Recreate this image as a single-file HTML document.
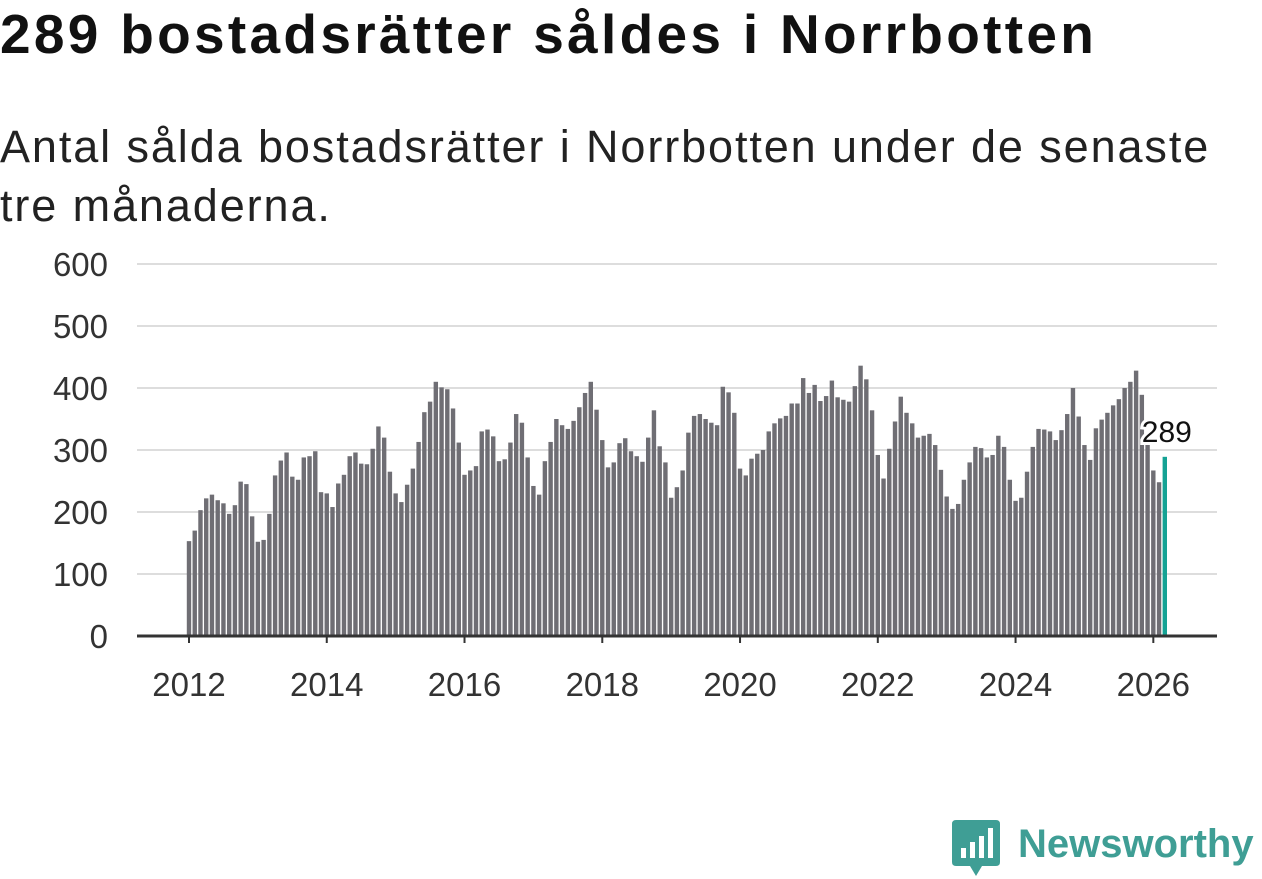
<!DOCTYPE html>
<html><head><meta charset="utf-8"><style>
body{margin:0;background:#fff;font-family:"Liberation Sans",sans-serif;width:1262px;height:879px;overflow:hidden;position:relative}
h1{position:absolute;left:0;top:2px;margin:0;font-size:55px;font-weight:bold;color:#111;letter-spacing:3.3px;white-space:nowrap}
.sub{position:absolute;left:0;top:117px;margin:0;font-size:45px;line-height:59px;color:#222;width:1262px;letter-spacing:1.9px;white-space:nowrap}
svg{position:absolute;left:0;top:0}
</style></head><body>
<h1>289 bostadsrätter såldes i Norrbotten</h1>
<p class="sub">Antal sålda bostadsrätter i Norrbotten under de senaste<br>tre månaderna.</p>
<svg id="c" width="1262" height="879"></svg>
<script>
const yTicks=[0,100,200,300,400,500,600];
const xTicks=[2012,2014,2016,2018,2020,2022,2024,2026];
const startYear=2012;
const values=[
153,170,203,222,228,219,214,197,211,249,245,193,
152,155,197,259,283,296,257,252,288,290,298,232,
230,208,246,260,290,296,278,277,302,338,320,265,
230,216,244,270,313,361,378,410,401,398,367,312,
260,267,274,330,333,322,282,285,312,358,344,288,
242,228,282,313,350,340,334,347,369,392,410,365,
316,272,280,311,319,298,290,281,320,364,306,280,
223,240,267,328,355,358,350,344,340,402,393,360,
270,259,286,294,300,330,343,351,355,375,375,416,
392,405,379,387,412,385,381,378,403,436,414,364,
292,254,302,346,386,360,343,320,323,326,308,268,
225,205,213,252,280,305,303,288,292,323,305,252,
218,223,265,305,334,333,330,316,332,358,400,354,
308,284,335,349,360,372,382,400,410,428,389,310,
267,248,289];
const NS="http://www.w3.org/2000/svg";
const svg=document.getElementById('c');
const y=v=>636-v*0.62;
const x=i=>189+i*5.74;
function mk(t,a){const e=document.createElementNS(NS,t);for(const k in a)e.setAttribute(k,a[k]);svg.appendChild(e);return e;}
yTicks.forEach(t=>{
 if(t>0){const g=mk('line',{x1:137,x2:1217,y1:y(t),y2:y(t),stroke:'#ddd','stroke-width':2});
 
 }
 const l=mk('text',{x:108,y:y(t)+12,'text-anchor':'end','font-size':33,fill:'#333','font-family':'Liberation Sans'});
 l.textContent=t;
 
 
});
values.forEach((v,i)=>{
 const last=i===values.length-1;
 const r=mk('rect',{x:x(i)-2.2,y:y(v),width:4.4,height:636-y(v),fill:last?'#14a294':'#6f6e74'});
 
 
});
const ax=mk('line',{x1:137,x2:1217,y1:636,y2:636,stroke:'#333','stroke-width':3});


xTicks.forEach(yr=>{
 const px=x((yr-startYear)*12);
 const tk=mk('line',{x1:px,x2:px,y1:636,y2:643,stroke:'#333','stroke-width':2});
 
 
 const l=mk('text',{x:px,y:696,'text-anchor':'middle','font-size':33,fill:'#333','font-family':'Liberation Sans'});
 l.textContent=yr;
 
 
});
const li=values.length-1;
const lab=mk('text',{x:x(li)+2,y:y(values[li])-15,'text-anchor':'middle','font-size':30,fill:'#111',stroke:'#fff','stroke-width':6,'paint-order':'stroke','font-family':'Liberation Sans'});
lab.textContent=values[li];


</script>
<div style="position:absolute;left:952px;top:820px;display:flex;align-items:center">
 <svg width="48" height="58" style="position:static">
  <path d="M0 4 Q0 0 4 0 H44 Q48 0 48 4 V42 Q48 46 44 46 H30 L24 56 L18 46 H4 Q0 46 0 42Z" fill="#3f9e95"/>
  <rect x="9" y="28" width="5" height="10" fill="#fff"/><rect x="18" y="22" width="5" height="16" fill="#fff"/><rect x="27" y="16" width="5" height="22" fill="#fff"/><rect x="36" y="8" width="5" height="30" fill="#fff"/>
 </svg>
 <span style="font-size:40px;font-weight:bold;color:#3f9e95;margin-left:18px;margin-top:-10px">Newsworthy</span>
</div>
</body></html>
